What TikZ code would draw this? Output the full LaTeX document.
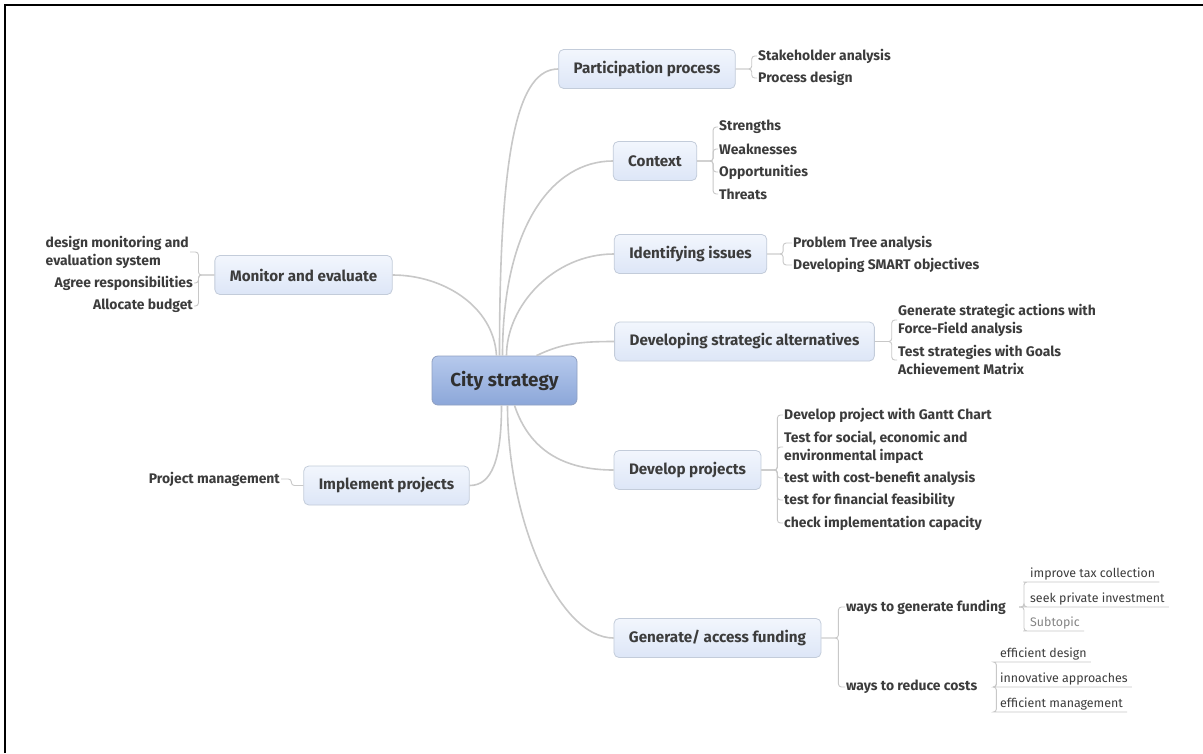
\documentclass[tikz,border=0pt]{standalone}
\usepackage{fontspec}
\setmainfont{Fira Sans}

\definecolor{linegray}{HTML}{C8C8C8}
\definecolor{boxline}{HTML}{C3CCDA}
\definecolor{boxtop}{HTML}{F2F6FD}
\definecolor{boxbot}{HTML}{DDE6F7}
\definecolor{citytop}{HTML}{B6C9EC}
\definecolor{citybot}{HTML}{8CA7D9}
\definecolor{cityline}{HTML}{8FA0C2}
\definecolor{txt}{HTML}{3C3C3C}
\definecolor{subgray}{HTML}{858585}

\tikzset{
  topic/.style={draw=boxline, top color=boxtop, bottom color=boxbot, rounded corners=5pt,
    line width=0.8pt, inner xsep=15pt, minimum height=39pt, text=txt,
    font=\bfseries\fontsize{15.2}{17}\selectfont},
  central/.style={draw=cityline, top color=citytop, bottom color=citybot, rounded corners=6pt,
    line width=0.8pt, minimum width=145pt, minimum height=49pt, text=txt!80!black,
    font=\bfseries\fontsize{18.8}{21}\selectfont},
  child/.style={inner xsep=1pt, inner ysep=1pt, text=txt, align=left,
    font=\bfseries\fontsize{13.9}{18}\selectfont},
  leaf/.style={inner xsep=4pt, inner ysep=2pt, text height=9.5pt, text depth=2.5pt, text=txt,
    font=\fontsize{12.4}{14}\selectfont},
  branch/.style={draw=linegray, line width=1.6pt},
  twig/.style={draw=linegray, line width=0.9pt, rounded corners=3pt},
}

\begin{document}
\begin{tikzpicture}[x=1pt, y=-1pt]
    \useasboundingbox[fill=white] (0,0) rectangle (1203,753);
    \draw[line width=2pt] (5,753) -- (5,5) -- (1203,5);

    % main topics
    \node[central] (city) at (504.5,380.5) {City strategy};
    \node[topic] (part) at (647,69) {Participation process};
    \node[topic] (context) at (655,161) {Context};
    \node[topic] (issues) at (690.5,254) {Identifying issues};
    \node[topic] (alt) at (744.5,341.5) {Developing strategic alternatives};
    \node[topic] (devproj) at (687.5,470) {Develop projects};
    \node[topic] (fund) at (717.5,638) {Generate/ access funding};
    \node[topic] (mon) at (303.5,275) {Monitor and evaluate};
    \node[topic] (impl) at (386.5,485.5) {Implement projects};

    \draw[branch] ([xshift=-5pt]city.north) .. controls +(0,-210) and +(-40,0) .. (part.west);
    \draw[branch] ([xshift=-2pt]city.north) .. controls +(0,-130) and +(-60,0) .. (context.west);
    \draw[branch] ([xshift=2pt]city.north) .. controls +(0,-50) and +(-60,0) .. (issues.west);
    \draw[branch] ([xshift=32pt]city.north) .. controls +(25,-12) and +(-35,0) .. (alt.west);
    \draw[branch] ([xshift=10pt]city.south) .. controls +(15,45) and +(-50,0) .. (devproj.west);
    \draw[branch] ([xshift=3pt]city.south) .. controls +(0,115) and +(-55,0) .. (fund.west);
    \draw[branch] ([xshift=-8pt]city.north) .. controls +(-3,-50) and +(50,0) .. (mon.east);
    \draw[branch] ([xshift=-3pt]city.south) .. controls +(0,55) and +(22,0) .. (impl.east);

    % subtopics on the right
    \node[child, anchor=west] (stake) at (757,56) {Stakeholder analysis};
    \node[child, anchor=west] (pdesign) at (757,78) {Process design};
    \foreach \n in {stake,pdesign}
        \draw[twig] (part.east) -- ++(16,0) |- (\n.west);

    \node[child, anchor=west] (strong) at (718,127) {Strengths};
    \node[child, anchor=west] (weak) at (718,149) {Weaknesses};
    \node[child, anchor=west] (opp) at (718,172) {Opportunities};
    \node[child, anchor=west] (threat) at (718,194) {Threats};
    \foreach \n in {strong,weak,opp,threat}
        \draw[twig] (context.east) -- ++(16,0) |- (\n.west);

    \node[child, anchor=west] (ptree) at (792,243) {Problem Tree analysis};
    \node[child, anchor=west] (smart) at (792,265) {Developing SMART objectives};
    \foreach \n in {ptree,smart}
        \draw[twig] (issues.east) -- ++(16,0) |- (\n.west);

    \node[child, anchor=west] (actions) at (897,320) {Generate strategic actions with\\Force-Field analysis};
    \node[child, anchor=west] (goals) at (897,360) {Test strategies with Goals\\Achievement Matrix};
    \foreach \n in {actions,goals}
        \draw[twig] (alt.east) -- ++(17,0) |- (\n.west);

    \node[child, anchor=west] (gantt) at (783,415) {Develop project with Gantt Chart};
    \node[child, anchor=west] (impact) at (783,447) {Test for social, economic and\\environmental impact};
    \node[child, anchor=west] (cba) at (783,478) {test with cost-benefit analysis};
    \node[child, anchor=west] (feas) at (783,500) {test for financial feasibility};
    \node[child, anchor=west] (capac) at (783,523) {check implementation capacity};
    \foreach \n in {gantt,impact,cba,feas,capac}
        \draw[twig] (devproj.east) -- ++(16,0) |- (\n.west);

    % funding
    \node[child, anchor=west] (genfund) at (845,607) {ways to generate funding};
    \node[child, anchor=west] (reduce) at (845,687) {ways to reduce costs};
    \foreach \n in {genfund,reduce}
        \draw[twig] (fund.east) -- ++(17,0) |- (\n.west);

    \node[leaf, anchor=south west] (tax) at (1026,582) {improve tax collection};
    \node[leaf, anchor=south west] (invest) at (1026,607) {seek private investment};
    \node[leaf, anchor=south west, text=subgray] (subtop) at (1026,631) {Subtopic};
    \foreach \n in {tax,invest,subtop}
        \draw[twig] ([xshift=12pt]genfund.east) -- ++(5,0) |- (\n.south west) -- (\n.south east);

    \node[leaf, anchor=south west] (effdes) at (996,662) {efficient design};
    \node[leaf, anchor=south west] (innov) at (996,687) {innovative approaches};
    \node[leaf, anchor=south west] (effman) at (996,712) {efficient management};
    \foreach \n in {effdes,innov,effman}
        \draw[twig] ([xshift=15pt]reduce.east) -- ++(3,0) |- (\n.south west) -- (\n.south east);

    % subtopics on the left
    \node[child, anchor=east] (dsys) at (190,252) {design monitoring and\\evaluation system};
    \node[child, anchor=east] (agree) at (194,283) {Agree responsibilities};
    \node[child, anchor=east] (alloc) at (194,306) {Allocate budget};
    \foreach \n in {dsys,agree,alloc}
        \draw[twig] (mon.west) -- ++(-16,0) |- (\n.east);

    \node[child, anchor=east] (pm) at (281,479) {Project management};
    \draw[twig] (impl.west) -- ++(-12,0) |- (pm.east);
\end{tikzpicture}
\end{document}
